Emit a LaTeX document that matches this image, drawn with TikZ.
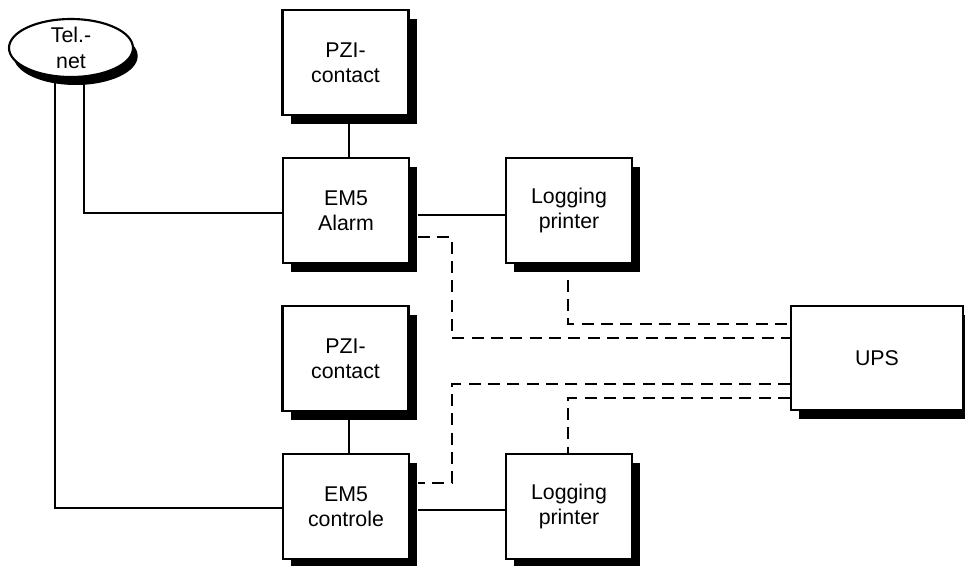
\documentclass[tikz,border=0pt]{standalone}
\usepackage{fontspec}
\setmainfont{Liberation Sans}
\usetikzlibrary{shadows,shapes.geometric,calc}
\begin{document}
\begin{tikzpicture}[x=0.75pt,y=-0.75pt,
  blk/.style={draw=black,line width=1.6pt,fill=white,minimum width=94.5pt,minimum height=78.75pt,
    align=center,inner sep=0pt,font=\fontsize{16}{19}\selectfont,
    drop shadow={shadow xshift=6pt,shadow yshift=-6.5pt,fill=black,opacity=1}},
  cloud/.style={draw=black,line width=1.6pt,fill=white,ellipse,minimum width=93pt,minimum height=40pt,
    align=center,inner sep=0pt,font=\fontsize{16}{19}\selectfont,
    drop shadow={shadow xshift=3.5pt,shadow yshift=-6pt,fill=black,opacity=1}},
  wire/.style={line width=1.5pt},
  dashline/.style={line width=1.6pt,dash pattern=on 9pt off 5.5pt}]
\useasboundingbox (0,0) rectangle (965,565);
% connectors first (under nodes)
\coordinate (ta) at (84,60);
\coordinate (tb) at (55,60);
\draw[wire] (ta) |- (283,213);
\draw[wire] (tb) |- (283,508);
\node[cloud] (telnet) at (71,48) {Tel.-\\net};
\node[blk] (pzi1) at (345.5,62.5) {PZI-\\contact};
\node[blk] (alarm) at (346,210.5) {EM5\\Alarm};
\node[blk] (log1) at (569,210.5) {Logging\\printer};
\node[blk] (pzi2) at (345.5,358.5) {PZI-\\contact};
\node[blk] (ups) at (877,358) [minimum width=129pt,minimum height=78pt] {UPS};
\node[blk] (ctrl) at (346,506.5) {EM5\\controle};
\node[blk] (log2) at (569,506.5) {Logging\\printer};
% solid
\draw[wire] ($(pzi1.south)+(3.5,8)$) -- ($(alarm.north)+(3,0)$);
\draw[wire] ($(alarm.east)+(8,4.5)$) -- ($(log1.west)+(0,4.5)$);
\draw[wire] ($(pzi2.south)+(3.5,8)$) -- ($(ctrl.north)+(3,0)$);
\draw[wire] ($(ctrl.east)+(8,3.5)$) -- ($(log2.west)+(0,3.5)$);
% dashed
\draw[dashline] ($(alarm.east)+(8,26.5)$) -| (452,338) -- ($(ups.west)+(0,-20)$);
\draw[dashline] ($(log1.south)+(-1,15.5)$) |- ($(ups.west)+(0,-34)$);
\draw[dashline] ($(ups.west)+(0,26)$) -| (452,483) -- ($(ctrl.east)+(8,-23.5)$);
\draw[dashline] ($(ups.west)+(0,40)$) -| ($(log2.north)+(-1,0)$);
\end{tikzpicture}
\end{document}
